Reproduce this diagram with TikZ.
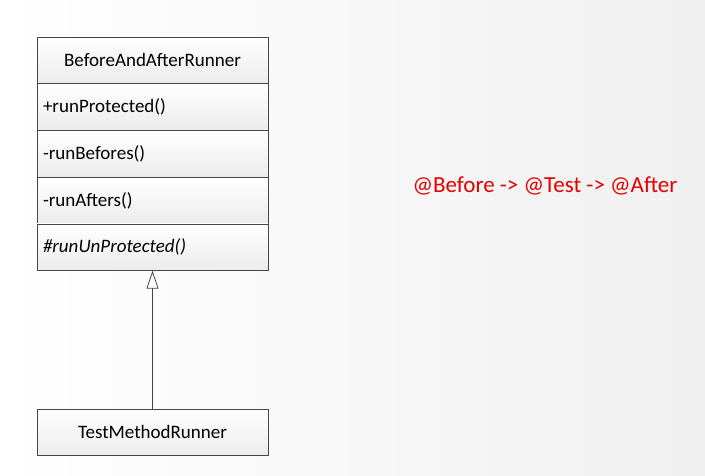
\documentclass[tikz,border=0pt]{standalone}
\usepackage{fontspec}
\setmainfont{Carlito}
\usepackage{xcolor}
\usepackage{tikz}
\usetikzlibrary{arrows.meta, positioning}
\definecolor{umlline}{RGB}{70,70,70}
\definecolor{umltop}{RGB}{255,255,255}
\definecolor{umlbottom}{RGB}{236,236,236}
\definecolor{note}{RGB}{230,0,0}

\begin{document}
\begin{tikzpicture}[x=1pt,y=1pt,node distance=0pt,
    umlhead/.style={rectangle,draw=umlline,top color=umltop,bottom color=umlbottom,
        minimum width=231pt,minimum height=46.4pt,inner sep=0pt,font=\fontsize{19}{22}\selectfont},
    umlrow/.style={umlhead,text width=219pt,align=left}]
    \shade[left color=white,right color=umlbottom!80] (0,0) rectangle (705,-476);
    \useasboundingbox (0,0) rectangle (705,-476);
    \node (runner) [umlhead] at (152.5,-60) {BeforeAndAfterRunner};
    \node (prot) [umlrow, below=of runner] {+runProtected()};
    \node (befores) [umlrow, below=of prot] {-runBefores()};
    \node (afters) [umlrow, below=of befores] {-runAfters()};
    \node (unprot) [umlrow, below=of afters] {\itshape\#runUnProtected()};
    \node (method) [umlhead] at (152.5,-432) {TestMethodRunner};
    \node (order) [text=note,font=\fontsize{23}{26}\selectfont] at (545,-186) {@Before -> @Test -> @After};

    \draw[-{Triangle[open,length=18pt,width=12pt]},thick,umlline] (method) -- (unprot);
    \end{tikzpicture}
\end{document}
